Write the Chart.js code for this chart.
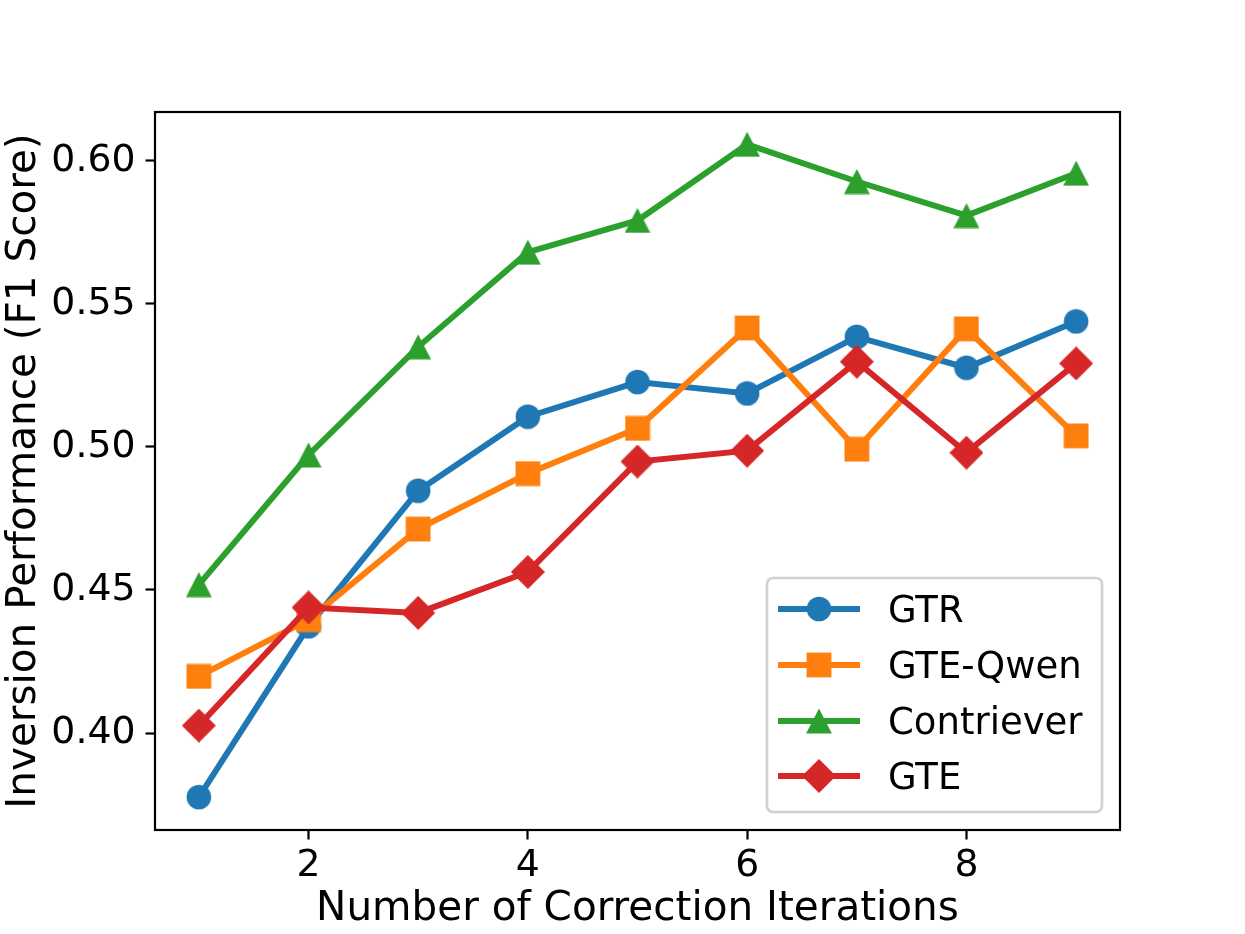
<!DOCTYPE html>
<html><head><meta charset="utf-8">
<script src="https://cdn.jsdelivr.net/npm/chart.js@4"></script>
<style>html,body{margin:0;padding:0;background:#fff;} #wrap{width:1245px;height:934px;position:relative;}</style>
</head><body><div id="wrap"><canvas id="c" width="1245" height="934"></canvas></div>
<script>
const iterations = [1, 2, 3, 4, 5, 6, 7, 8, 9];
const gtr        = [0.3776, 0.4373, 0.4847, 0.5106, 0.5227, 0.5187, 0.5385, 0.5277, 0.5439];
const gteQwen    = [0.4198, 0.4396, 0.4713, 0.4907, 0.5065, 0.5416, 0.4992, 0.5413, 0.5039];
const contriever = [0.4519, 0.4972, 0.5350, 0.5681, 0.5792, 0.6058, 0.5928, 0.5809, 0.5957];
const gte        = [0.4026, 0.4439, 0.4420, 0.4563, 0.4949, 0.4987, 0.5298, 0.4980, 0.5292];
const seriesNames = ['GTR', 'GTE-Qwen', 'Contriever', 'GTE'];
const xTicks = [2, 4, 6, 8];
const yTicks = [0.40, 0.45, 0.50, 0.55, 0.60];
const xLabel = 'Number of Correction Iterations';
const yLabel = 'Inversion Performance (F1 Score)';

const FONT = 'DejaVu Sans';
const colors = ['#1f77b4', '#ff7f0e', '#2ca02c', '#d62728'];
const shapes = ['circle', 'square', 'triangle', 'diamond'];
const seriesValues = [gtr, gteQwen, contriever, gte];
const LINE_W = 6;

function makeMarker(shape, color) {
  const c = document.createElement('canvas');
  let w, h;
  if (shape === 'diamond') { w = 34; h = 34; } else { w = 26; h = 26; }
  c.width = w; c.height = h;
  const g = c.getContext('2d');
  g.fillStyle = color;
  g.beginPath();
  if (shape === 'circle') {
    g.arc(13, 13, 12.3, 0, Math.PI * 2);
  } else if (shape === 'square') {
    g.rect(0.6, 0.6, 24.8, 24.8);
  } else if (shape === 'triangle') {
    g.moveTo(13, 0.5); g.lineTo(25.9, 25.5); g.lineTo(0.1, 25.5); g.closePath();
  } else {
    g.moveTo(17, 0); g.lineTo(34, 17); g.lineTo(17, 34); g.lineTo(0, 17); g.closePath();
  }
  g.fill();
  return c;
}
const markers = shapes.map((s, i) => makeMarker(s, colors[i]));

const datasets = seriesNames.map((name, i) => ({
  label: name,
  data: iterations.map((x, j) => ({ x: x, y: seriesValues[i][j] })),
  borderColor: colors[i],
  backgroundColor: colors[i],
  borderWidth: LINE_W,
  pointStyle: markers[i],
  pointRadius: 12,
  tension: 0,
  order: 4 - i
}));

const frameAndLegend = {
  id: 'frameAndLegend',
  afterDatasetsDraw(chart) {
    const { ctx, chartArea: a } = chart;
    ctx.save();
    ctx.strokeStyle = '#000';
    ctx.lineWidth = 2.2;
    ctx.strokeRect(a.left, a.top, a.right - a.left, a.bottom - a.top);
    // legend
    const bx = 767, by = 578, bw = 335, bh = 234, r = 6;
    ctx.beginPath();
    ctx.moveTo(bx + r, by);
    ctx.arcTo(bx + bw, by, bx + bw, by + bh, r);
    ctx.arcTo(bx + bw, by + bh, bx, by + bh, r);
    ctx.arcTo(bx, by + bh, bx, by, r);
    ctx.arcTo(bx, by, bx + bw, by, r);
    ctx.closePath();
    ctx.fillStyle = 'rgba(255,255,255,0.8)';
    ctx.fill();
    ctx.strokeStyle = 'rgba(204,204,204,0.9)';
    ctx.lineWidth = 2.7;
    ctx.stroke();
    const rows = [609, 665, 721, 776];
    chart.data.datasets.forEach((ds, i) => {
      const y = rows[i];
      ctx.strokeStyle = ds.borderColor;
      ctx.lineWidth = LINE_W;
      ctx.beginPath();
      ctx.moveTo(778, y); ctx.lineTo(860, y);
      ctx.stroke();
      const m = ds.pointStyle;
      ctx.drawImage(m, 819 - m.width / 2, y - m.height / 2);
      ctx.fillStyle = '#000';
      ctx.font = '37px "' + FONT + '"';
      ctx.textAlign = 'left';
      ctx.textBaseline = 'alphabetic';
      ctx.fillText(ds.label, 888, y + 12.5);
    });
    ctx.restore();
  }
};

new Chart(document.getElementById('c'), {
  type: 'line',
  data: { datasets },
  options: {
    responsive: false,
    animation: false,
    events: [],
    layout: { padding: { top: 112, right: 125, left: 0, bottom: 0 } },
    plugins: { legend: { display: false }, tooltip: { enabled: false } },
    scales: {
      x: {
        type: 'linear', min: 0.6, max: 9.4,
        afterBuildTicks: s => { s.ticks = xTicks.map(v => ({ value: v })); },
        afterFit: s => { s.height = 104; },
        ticks: { color: '#000', font: { family: FONT, size: 37.8 }, padding: 4, maxRotation: 0, autoSkip: false, callback: v => String(v) },
        grid: { drawOnChartArea: false, drawTicks: true, tickLength: 9.5, tickWidth: 2.2, tickColor: '#000', color: '#000' },
        border: { display: false },
        title: { display: true, text: xLabel, color: '#000', font: { family: FONT, size: 40.5 }, padding: 0 }
      },
      y: {
        type: 'linear', min: 0.3661, max: 0.6171,
        afterBuildTicks: s => { s.ticks = yTicks.map(v => ({ value: v })); },
        afterFit: s => { s.width = 155; },
        ticks: { color: '#000', font: { family: FONT, size: 37.8 }, padding: 10, autoSkip: false, callback: v => Number(v).toFixed(2) },
        grid: { drawOnChartArea: false, drawTicks: true, tickLength: 9.5, tickWidth: 2.2, tickColor: '#000', color: '#000' },
        border: { display: false },
        title: { display: true, text: yLabel, color: '#000', font: { family: FONT, size: 40.5 }, padding: 0 }
      }
    }
  },
  plugins: [frameAndLegend]
});
</script></body></html>
